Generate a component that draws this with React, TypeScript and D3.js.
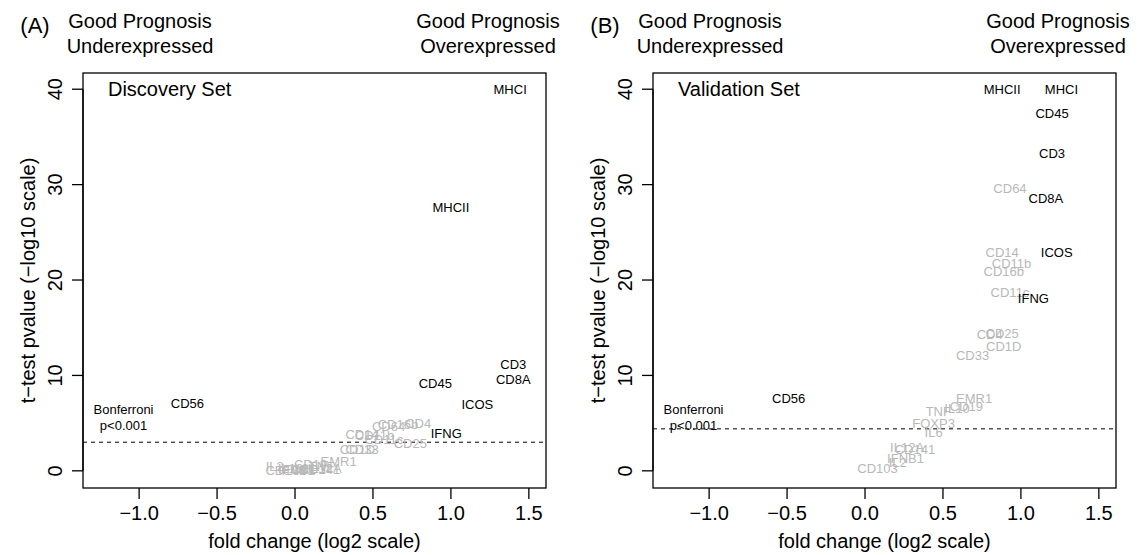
import React from 'react';
import * as d3 from 'd3';

// x/y ticks shared by both panels
const xTicks = [-1.0, -0.5, 0.0, 0.5, 1.0, 1.5];
const yTicks = [0, 10, 20, 30, 40];

// (A) discovery set
const discoveryGenes = ['MHCI', 'MHCII', 'CD3', 'CD8A', 'CD45', 'ICOS', 'IFNG', 'CD56',
  'CD64', 'CD16b', 'CD4', 'CD14', 'CD11b', 'CD11c', 'CD25', 'CD1D', 'CD33', 'EMR1',
  'CD19', 'TNF', 'IL12A', 'IL6', 'FOXP3', 'IL10', 'CD141', 'IFNB1', 'IL2', 'CD103'];
const discoveryFold = [1.38, 1.00, 1.40, 1.40, 0.90, 1.17, 0.97, -0.69,
  0.60, 0.66, 0.79, 0.43, 0.51, 0.57, 0.74, 0.40, 0.43, 0.28,
  0.10, 0.17, 0.19, 0.03, 0.06, -0.03, 0.16, 0.01, -0.13, -0.06];
const discoveryLogP = [40.0, 27.6, 11.1, 9.6, 9.2, 7.0, 3.9, 7.1,
  4.7, 4.9, 5.0, 3.8, 3.7, 3.3, 2.9, 2.2, 2.2, 1.0,
  0.7, 0.5, 0.3, 0.3, 0.1, 0.2, 0.1, 0.0, 0.5, 0.0];
const discoverySig = ['MHCI', 'MHCII', 'CD3', 'CD8A', 'CD45', 'ICOS', 'IFNG', 'CD56'];

// (B) validation set
const validationGenes = ['MHCII', 'MHCI', 'CD45', 'CD3', 'CD64', 'CD8A', 'CD14', 'ICOS',
  'CD11b', 'CD16b', 'CD11c', 'IFNG', 'CD4', 'CD25', 'CD1D', 'CD33', 'CD56', 'EMR1',
  'CD19', 'IL10', 'TNF', 'FOXP3', 'IL6', 'IL12A', 'CD141', 'IFNB1', 'IL2', 'CD103'];
const validationFold = [0.88, 1.26, 1.20, 1.20, 0.93, 1.16, 0.88, 1.23,
  0.94, 0.89, 0.93, 1.08, 0.80, 0.88, 0.89, 0.69, -0.49, 0.70,
  0.65, 0.59, 0.47, 0.44, 0.44, 0.27, 0.32, 0.26, 0.21, 0.08];
const validationLogP = [40.0, 40.0, 37.5, 33.3, 29.6, 28.5, 22.9, 22.9,
  21.7, 20.9, 18.7, 18.1, 14.3, 14.4, 13.0, 12.1, 7.6, 7.6,
  6.7, 6.5, 6.2, 5.0, 4.0, 2.5, 2.2, 1.3, 0.9, 0.2];
const validationSig = ['MHCII', 'MHCI', 'CD45', 'CD3', 'CD8A', 'ICOS', 'IFNG', 'CD56'];

const FONT = '"Liberation Sans", Arial, Helvetica, sans-serif';
const GREY = '#b8b8b8';

type PanelProps = {
  dx: number; tag: string; setName: string; threshold: number;
  genes: string[]; fold: number[]; logp: number[]; sig: string[];
};

const Panel = ({ dx, tag, setName, threshold, genes, fold, logp, sig }: PanelProps) => {
  const left = 83 + dx, right = 546 + dx, top = 73, bottom = 488;
  const x = d3.scaleLinear().domain([-1.36, 1.61]).range([left, right]);
  const y = d3.scaleLinear().domain([-1.8, 41.7]).range([bottom, top]);
  const midY = (top + bottom) / 2;
  const midX = (left + right) / 2;

  return (
    <g fontFamily={FONT}>
      <text x={35 + dx} y={33} fontSize={22} textAnchor="middle">{tag}</text>
      <text x={140 + dx} y={28} fontSize={20} textAnchor="middle">Good Prognosis</text>
      <text x={140 + dx} y={53} fontSize={20} textAnchor="middle">Underexpressed</text>
      <text x={488 + dx} y={28} fontSize={20} textAnchor="middle">Good Prognosis</text>
      <text x={488 + dx} y={53} fontSize={20} textAnchor="middle">Overexpressed</text>

      <rect x={left} y={top} width={right - left} height={bottom - top}
        fill="none" stroke="#000" strokeWidth={1.3} />

      {xTicks.map(t => (
        <g key={t}>
          <line x1={x(t)} x2={x(t)} y1={bottom} y2={bottom + 11} stroke="#000" strokeWidth={1.3} />
          <text x={x(t)} y={520} fontSize={20} textAnchor="middle">
            {d3.format('.1f')(t).replace('-', '\u2212')}
          </text>
        </g>
      ))}
      <text x={midX} y={548} fontSize={20} textAnchor="middle">fold change (log2 scale)</text>

      <line x1={left} x2={left} y1={y(0)} y2={y(40)} stroke="#000" strokeWidth={1.3} />
      {yTicks.map(t => (
        <g key={t}>
          <line x1={left - 11} x2={left} y1={y(t)} y2={y(t)} stroke="#000" strokeWidth={1.3} />
          <text transform={`translate(${left - 21},${y(t)}) rotate(-90)`} fontSize={20}
            textAnchor="middle">{t}</text>
        </g>
      ))}
      <text transform={`translate(${left - 48},${midY}) rotate(-90)`} fontSize={20}
        textAnchor="middle">{'t\u2212test pvalue (\u2212log10 scale)'}</text>

      <line x1={left} x2={right} y1={y(threshold)} y2={y(threshold)} stroke="#000"
        strokeWidth={1} strokeDasharray="4,4" />
      <text x={x(-1.10)} y={y(5.6) - 3} fontSize={13} textAnchor="middle">Bonferroni</text>
      <text x={x(-1.10)} y={y(5.6) + 13} fontSize={13} textAnchor="middle">p&lt;0.001</text>

      <text x={x(-1.20)} y={y(40)} dy="0.35em" fontSize={20}>{setName}</text>

      {genes.map((g, i) => (
        <text key={g} x={x(fold[i])} y={y(logp[i])} dy="0.35em" fontSize={13}
          textAnchor="middle" fill={sig.includes(g) ? '#000' : GREY}>{g}</text>
      ))}
    </g>
  );
};

export default function App() {
  return (
    <svg width={1139} height={555} style={{ position: 'absolute', left: 0, top: 0, background: '#fff' }}>
      <rect width={1139} height={555} fill="#fff" />
      <Panel dx={0} tag="(A)" setName="Discovery Set" threshold={3.0}
        genes={discoveryGenes} fold={discoveryFold} logp={discoveryLogP} sig={discoverySig} />
      <Panel dx={570} tag="(B)" setName="Validation Set" threshold={4.4}
        genes={validationGenes} fold={validationFold} logp={validationLogP} sig={validationSig} />
    </svg>
  );
}
